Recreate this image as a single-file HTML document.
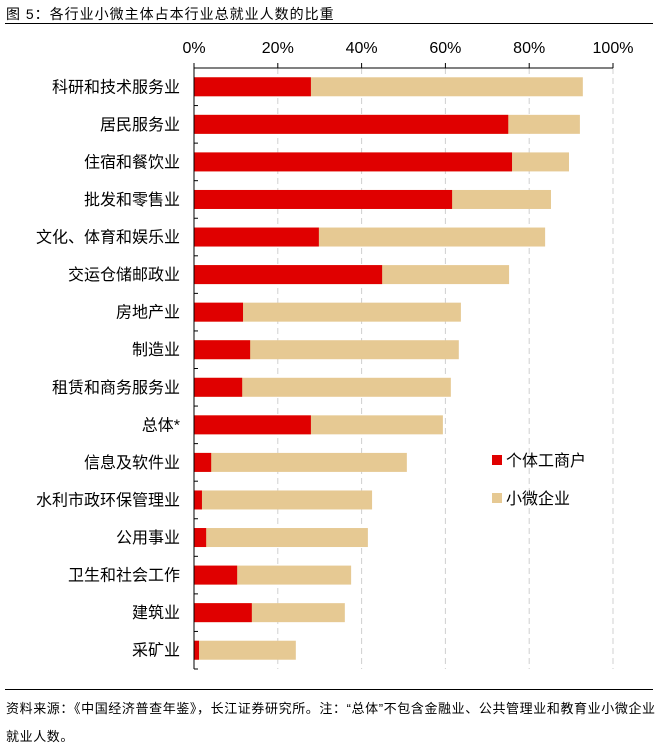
<!DOCTYPE html>
<html><head><meta charset="utf-8">
<style>
body{margin:0;background:#fff;font-family:"Liberation Sans","Noto Sans CJK SC",sans-serif;}
#wrap{position:relative;width:661px;height:749px;overflow:hidden;}
.t{position:absolute;white-space:nowrap;color:#000;}
</style></head><body>
<div id="wrap">
<div class="t" style="left:6px;top:4px;font-size:14px;letter-spacing:1px;">图 5：各行业小微主体占本行业总就业人数的比重</div>
<div style="position:absolute;left:5px;top:23px;width:648px;height:1px;background:#000;"></div>
<svg id="chart" width="661" height="749" style="position:absolute;left:0;top:0;font-family:'Liberation Sans','Noto Sans CJK SC',sans-serif;"></svg>
<div style="position:absolute;left:5px;top:689px;width:648px;height:1px;background:#000;"></div>
<div class="t" style="left:6px;top:695px;font-size:13px;letter-spacing:0.6px;line-height:28px;">资料来源：《中国经济普查年鉴》，长江证券研究所。注：“总体”不包含金融业、公共管理业和教育业小微企业<br>就业人数。</div>
</div>
<script>
const categories=["科研和技术服务业","居民服务业","住宿和餐饮业","批发和零售业","文化、体育和娱乐业","交运仓储邮政业","房地产业","制造业","租赁和商务服务业","总体*","信息及软件业","水利市政环保管理业","公用事业","卫生和社会工作","建筑业","采矿业"];
const individualValues=[27.9,75.0,75.9,61.6,29.8,44.9,11.7,13.4,11.5,27.9,4.1,1.9,2.9,10.3,13.8,1.2];
const totalValues=[92.8,92.1,89.5,85.2,83.8,75.2,63.7,63.2,61.3,59.4,50.8,42.5,41.5,37.5,36.0,24.3];
const tickValues=[0,20,40,60,80,100];
const tickLabels=["0%","20%","40%","60%","80%","100%"];
const seriesNames=["个体工商户","小微企业"];

const svg=document.getElementById('chart');
const NS='http://www.w3.org/2000/svg';
const x0=194,x1=613,yTop=68,yBot=669;
const band=(yBot-yTop)/categories.length;
const xs=v=>x0+(v/100)*(x1-x0);
const yc=i=>yTop+band*(i+0.5);
function mk(tag,attrs){const e=document.createElementNS(NS,tag);for(const k in attrs)e.setAttribute(k,attrs[k]);svg.appendChild(e);return e;}

tickValues.forEach((v,i)=>{
  if(v>0){const g=mk('line',{x1:xs(v),x2:xs(v),y1:yTop,y2:yBot,stroke:'#d0d0d0','stroke-width':1,'stroke-dasharray':'6,4'});
  
  }
  const tk=mk('line',{x1:xs(v),x2:xs(v),y1:yTop-5,y2:yTop,stroke:'#000'});
  
  
  const t=mk('text',{x:xs(v),y:53,'text-anchor':'middle','font-size':16,fill:'#000'});
  t.textContent=tickLabels[i];
  
  
});
const ax=mk('line',{x1:x0,x2:x1,y1:yTop,y2:yTop,stroke:'#000','stroke-width':1});



categories.forEach((c,i)=>{
  const h=19,y=yc(i)-h/2;
  const bt=mk('rect',{x:xs(0),y:y,width:xs(totalValues[i])-xs(0),height:h,fill:'#e6c993'});
  
  
  const br=mk('rect',{x:xs(0),y:y,width:xs(individualValues[i])-xs(0),height:h,fill:'#e00000'});
  
  
  const t=mk('text',{x:180,y:yc(i)+5.5,'text-anchor':'end','font-size':16,fill:'#000'});
  t.textContent=c;
  
  
});
for(let i=0;i<=categories.length;i++){
  const tk=mk('line',{x1:x0,x2:x0+4,y1:yTop+band*i,y2:yTop+band*i,stroke:'#000'});
  
  
}
const yax=mk('line',{x1:x0,x2:x0,y1:yTop,y2:yBot,stroke:'#000'});



const colors=['#e00000','#e6c993'];
seriesNames.forEach((n,i)=>{
  const y=460+i*38;
  const r=mk('rect',{x:492,y:y-5,width:10,height:10,fill:colors[i]});
  
  
  const t=mk('text',{x:506,y:y+6,'font-size':16,fill:'#000'});
  t.textContent=n;
  
  
});
</script>
</body></html>
